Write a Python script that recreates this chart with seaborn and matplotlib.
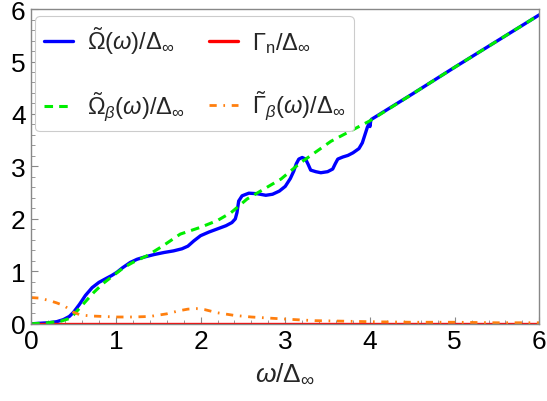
import matplotlib
matplotlib.use("Agg")
import matplotlib.pyplot as plt
import seaborn as sns
import numpy as np
import pandas as pd
from matplotlib.ticker import MultipleLocator

# Renormalized frequency Omega~(omega)/Delta_inf
omega_x = [0, 0.1, 0.2, 0.3, 0.38, 0.45, 0.5, 0.57, 0.64, 0.72, 0.8, 0.88, 0.95,
           1.01, 1.08, 1.17, 1.25, 1.33, 1.45, 1.57, 1.68, 1.78, 1.85, 1.92, 2.0,
           2.1, 2.2, 2.3, 2.37, 2.41, 2.43, 2.45, 2.49, 2.57, 2.67, 2.77, 2.85,
           2.93, 3.0, 3.06, 3.1, 3.13, 3.16, 3.2, 3.24, 3.27, 3.3, 3.36, 3.42,
           3.5, 3.56, 3.59, 3.62, 3.68, 3.74, 3.8, 3.87, 3.91, 3.94, 3.97, 3.99,
           4.0, 4.01, 4.02, 4.5, 5.0, 5.5, 6.0]
omega_y = [0, 0.01, 0.02, 0.04, 0.08, 0.14, 0.22, 0.37, 0.54, 0.69, 0.79, 0.86,
           0.92, 0.98, 1.07, 1.17, 1.23, 1.27, 1.32, 1.36, 1.39, 1.43, 1.48,
           1.58, 1.68, 1.75, 1.81, 1.87, 1.93, 2.0, 2.12, 2.34, 2.44, 2.49,
           2.48, 2.45, 2.47, 2.53, 2.62, 2.77, 2.91, 3.05, 3.14, 3.17, 3.14,
           3.04, 2.93, 2.9, 2.88, 2.9, 2.95, 3.05, 3.14, 3.18, 3.21, 3.26, 3.34,
           3.45, 3.6, 3.75, 3.82, 3.76, 3.88, 3.9, 4.38, 4.89, 5.39, 5.89]

# Normal-state damping Gamma_n/Delta_inf
gamma_n_x = [0, 6]
gamma_n_y = [0, 0]

# Omega~_beta(omega)/Delta_inf
omega_b_x = [0, 0.2, 0.35, 0.45, 0.5, 0.6, 0.74, 0.85, 0.97, 1.1, 1.2, 1.37,
             1.55, 1.76, 2.0, 2.2, 2.36, 2.55, 2.75, 2.95, 3.18, 3.54, 4.0,
             4.5, 5.0, 5.5, 6.0]
omega_b_y = [0, 0.02, 0.05, 0.1, 0.17, 0.35, 0.6, 0.77, 0.92, 1.08, 1.17, 1.3,
             1.48, 1.71, 1.84, 1.97, 2.12, 2.38, 2.57, 2.76, 3.07, 3.48, 3.87,
             4.38, 4.89, 5.39, 5.89]

# Gamma~_beta(omega)/Delta_inf
gamma_b_x = [0, 0.1, 0.22, 0.3, 0.38, 0.45, 0.5, 0.58, 0.7, 0.85, 1.0, 1.2, 1.4,
             1.6, 1.75, 1.85, 1.95, 2.05, 2.2, 2.4, 2.6, 2.8, 3.0, 3.35, 3.7,
             4.0, 4.5, 5.0, 5.5, 6.0]
gamma_b_y = [0.5, 0.49, 0.44, 0.4, 0.35, 0.28, 0.22, 0.17, 0.15, 0.14, 0.13,
             0.13, 0.14, 0.19, 0.25, 0.28, 0.29, 0.27, 0.21, 0.16, 0.13, 0.11,
             0.09, 0.06, 0.05, 0.04, 0.03, 0.03, 0.02, 0.02]

x_ticks = [0, 1, 2, 3, 4, 5, 6]
y_ticks = [0, 1, 2, 3, 4, 5, 6]

sns.set_style("ticks")
plt.rcParams['font.family'] = ['Liberation Sans', 'DejaVu Sans']
plt.rcParams['mathtext.fontset'] = 'custom'
plt.rcParams['mathtext.rm'] = 'Liberation Sans'
plt.rcParams['mathtext.it'] = 'Liberation Sans:italic'
plt.rcParams['mathtext.bf'] = 'Liberation Sans:bold'

fig = plt.figure(figsize=(5.47, 4.02), dpi=100)
ax = fig.add_axes([0.057, 0.192, 0.929, 0.783])

common = dict(ax=ax, sort=False, estimator=None)
sns.lineplot(x=omega_x, y=omega_y, color="#0000ff", lw=2.4,
             label=r"$\tilde{\Omega}(\omega)/\Delta_\infty$", **common)
sns.lineplot(x=gamma_n_x, y=gamma_n_y, color="#ff0000", lw=2.4,
             label=r"$\Gamma_{\mathrm{n}}/\Delta_\infty$", **common)
sns.lineplot(x=omega_b_x, y=omega_b_y, color="#00ee00", lw=2.2,
             label=r"$\tilde{\Omega}_\beta(\omega)/\Delta_\infty$", **common)
sns.lineplot(x=gamma_b_x, y=gamma_b_y, color="#ff7f0e", lw=2.0,
             label=r"$\tilde{\Gamma}_\beta(\omega)/\Delta_\infty$", **common)

ax.lines[2].set_dashes([2.8, 2.0])
ax.lines[3].set_dashes([2.6, 2.4, 0.6, 2.4])

ax.set_xlim(0, 6)
ax.set_ylim(0, 6)
ax.set_xticks(x_ticks)
ax.set_yticks(y_ticks)
ax.xaxis.set_minor_locator(MultipleLocator(0.2))
ax.yaxis.set_minor_locator(MultipleLocator(0.2))
ax.tick_params(which='both', direction='in', top=False, right=False,
               color='#888888', labelsize=19, labelcolor='black')
ax.tick_params(which='major', length=5, width=0.8, pad=4)
ax.tick_params(which='minor', length=3, width=0.6)
for s in ax.spines.values():
    s.set_color('#888888')
    s.set_linewidth(1.0)

ax.set_xlabel(r"$\omega/\Delta_\infty$", fontsize=19, labelpad=5)
ax.set_ylabel("")

# row-wise legend: handles ordered column by column
handles, labels = ax.get_legend_handles_labels()
order = [0, 2, 1, 3]
leg = ax.legend([handles[i] for i in order], [labels[i] for i in order],
                ncol=2, loc='upper left', fontsize=17, frameon=True,
                fancybox=True, edgecolor='#cccccc', framealpha=1,
                handlelength=1.25, columnspacing=1.0, labelspacing=1.42,
                handletextpad=0.6, borderpad=0.35, borderaxespad=0,
                bbox_to_anchor=(0.008, 0.978))
leg.get_frame().set_linewidth(0.8)

fig.savefig("out.png", dpi=100)
